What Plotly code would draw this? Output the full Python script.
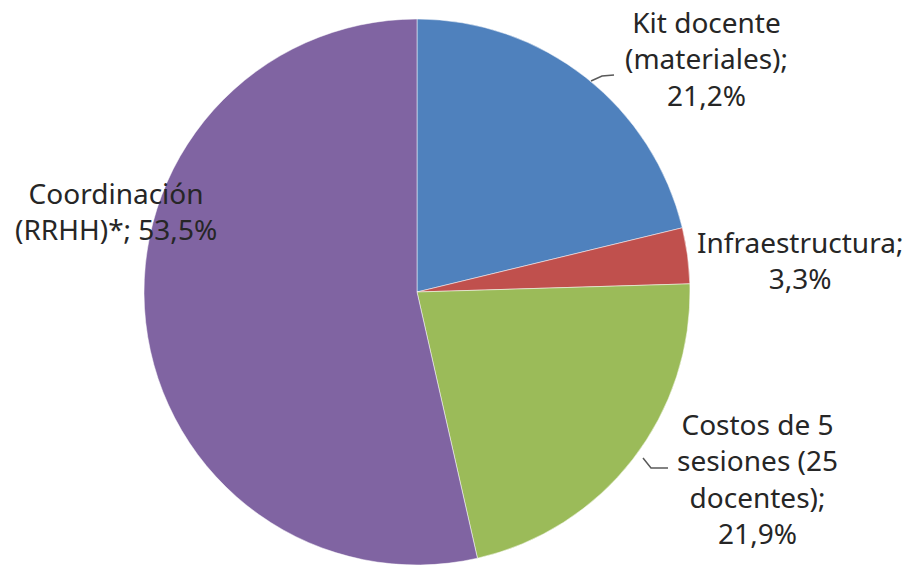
import plotly.graph_objects as go

labels = ["Kit docente (materiales)", "Infraestructura", "Costos de 5 sesiones (25 docentes)", "Coordinación (RRHH)*"]
values = [21.2, 3.3, 21.9, 53.5]
colors = ["#4F81BD", "#C0504D", "#9BBB59", "#8064A2"]
label_texts = [
    "Kit docente<br>(materiales);<br>21,2%",
    "Infraestructura;<br>3,3%",
    "Costos de 5<br>sesiones (25<br>docentes);<br>21,9%",
    "Coordinación<br>(RRHH)*; 53,5%",
]

W, H = 909, 565
label_pos = [(706, 59), (800, 260), (757, 478), (116, 211)]

fig = go.Figure(go.Pie(
    labels=labels, values=values, sort=False, direction="clockwise", rotation=0,
    marker=dict(colors=colors, line=dict(color="white", width=0.5)),
    textinfo="none", hoverinfo="label+percent", showlegend=False,
    domain=dict(x=[142 / W, 692 / W], y=[0, 1 - 19 / H]),
))

font = dict(family="Noto Sans, Open Sans, sans-serif", size=28, color="#262626")
for t, (px, py) in zip(label_texts, label_pos):
    fig.add_annotation(x=px / W, y=1 - py / H, xref="paper", yref="paper", text=t,
                       showarrow=False, xanchor="center", yanchor="middle", align="center", font=font)

def p(x, y):
    return f"{x / W:.5f},{1 - y / H:.5f}"

leaders = [
    [(591, 81), (602, 76), (614, 75)],
    [(643, 458), (651, 468), (668, 468)],
]
for pts in leaders:
    path = "M " + " L ".join(p(x, y) for x, y in pts)
    fig.add_shape(type="path", path=path, xref="paper", yref="paper",
                  line=dict(color="#595959", width=1.5))

fig.update_layout(width=W, height=H, margin=dict(l=0, r=0, t=0, b=0),
                  paper_bgcolor="white", plot_bgcolor="white")
fig.write_html("out.html", config={"displayModeBar": False},
               post_script="document.body.style.margin='0';document.body.style.overflow='hidden';")
